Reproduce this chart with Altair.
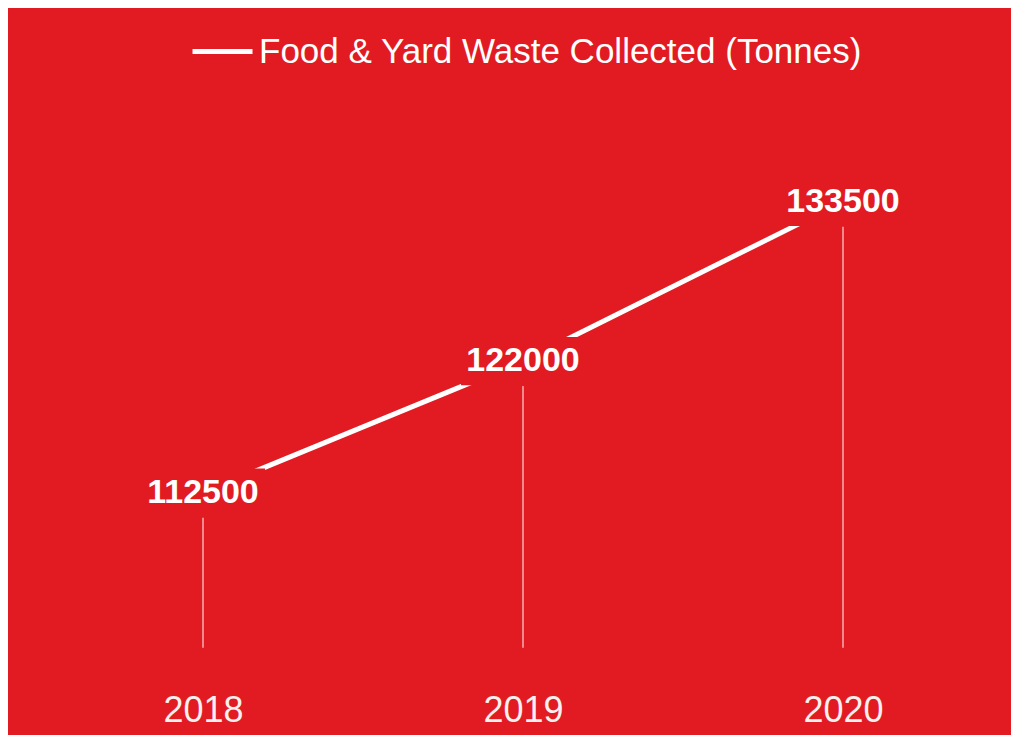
import altair as alt
import pandas as pd

years = ["2018", "2019", "2020"]
tonnes = [112500, 122000, 133500]
series_name = "Food & Yard Waste Collected (Tonnes)"

BG = "#e21b23"
FONT = "Liberation Sans, Arial, Helvetica, sans-serif"

df = pd.DataFrame({
    "year": years,
    "tonnes": tonnes,
    "series": [series_name] * len(years),
})

base = alt.Chart(df).encode(
    x=alt.X(
        "year:O",
        scale=alt.Scale(type="point", range=[195, 835], padding=0),
        axis=alt.Axis(
            title=None, labelAngle=0, domain=False, ticks=False, grid=False,
            labelFontSize=36, labelColor="#f8f0ee", labelFont=FONT,
            offset=-42, labelPadding=0,
        ),
    ),
    y=alt.Y(
        "tonnes:Q",
        scale=alt.Scale(domain=[95000, 147500], zero=False, nice=False),
        axis=None,
    ),
)

rules = base.mark_rule(strokeWidth=1.5, color="#ffffff", opacity=0.65, yOffset=25).encode(
    y2=alt.datum(101300)
)

line = base.mark_line(strokeWidth=5).encode(
    color=alt.Color(
        "series:N",
        scale=alt.Scale(range=["#ffffff"]),
        legend=alt.Legend(
            title=None, orient="none", legendX=182, legendY=11,
            symbolType="stroke", symbolSize=3600, symbolStrokeWidth=5,
            labelFontSize=35, labelColor="#ffffff", labelFont=FONT,
            labelLimit=900, labelOffset=4,
        ),
    )
)

boxes = base.mark_point(
    shape="M-1,-0.39L1,-0.39L1,0.39L-1,0.39Z",
    size=15376, filled=True, color=BG, opacity=1, strokeWidth=0,
)

labels = base.mark_text(
    fontSize=34, fontWeight="bold", color="#ffffff", font=FONT, baseline="middle"
).encode(text=alt.Text("tonnes:Q", format="d"))

chart = (
    alt.layer(rules, line, boxes, labels)
    .properties(width=1003, height=727, background=BG, padding=0)
    .configure_view(strokeWidth=0)
)

chart.save("out.html", embed_options={"renderer": "svg", "actions": False})
